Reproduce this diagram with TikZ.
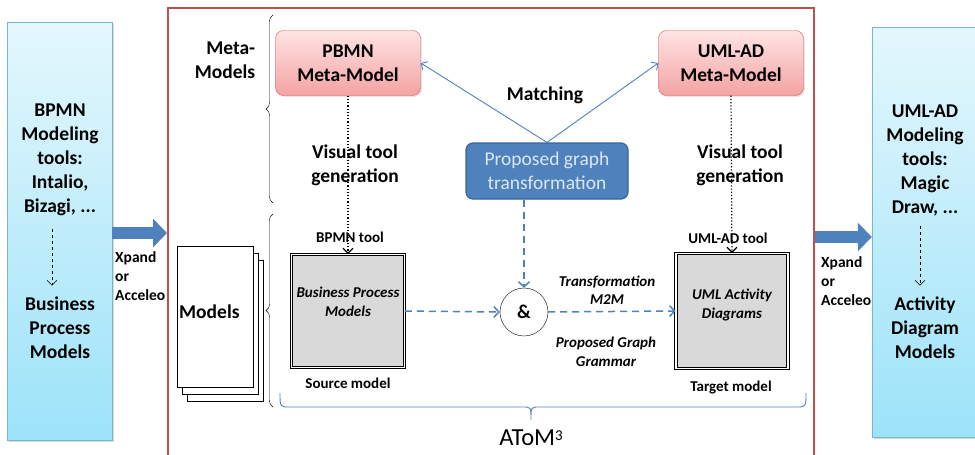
\documentclass[tikz,border=0pt]{standalone}
\usepackage{fontspec}
\setmainfont{Carlito}
\usetikzlibrary{positioning}
\usetikzlibrary{arrows.meta}
\usetikzlibrary{decorations.pathreplacing}
\usetikzlibrary{shadows}
\definecolor{toolTop}{HTML}{E4F7FD}
\definecolor{toolBot}{HTML}{9CE3F9}
\definecolor{toolEdge}{HTML}{78B6CC}
\definecolor{metaTop}{HTML}{FFE3E3}
\definecolor{metaBot}{HTML}{F4A3A3}
\definecolor{metaEdge}{HTML}{D0605E}
\definecolor{frameRed}{HTML}{C0504D}
\definecolor{blueMain}{HTML}{4F81BD}
\definecolor{blueDark}{HTML}{3A6599}
\definecolor{propText}{HTML}{DCE6F2}
\definecolor{grayFill}{HTML}{D9D9D9}
\newcommand{\bigtxt}{\fontsize{19.5}{24}\selectfont}
\newcommand{\smalltxt}{\fontsize{15}{18.5}\selectfont}
\tikzset{
  toolbox/.style = {draw=toolEdge, top color=toolTop, bottom color=toolBot, inner sep=0,
                    drop shadow={shadow xshift=2pt, shadow yshift=-2pt, opacity=0.3}},
  metabox/.style = {draw=metaEdge, rounded corners=8pt, top color=metaTop, bottom color=metaBot,
                    minimum width=145, minimum height=65, align=center,
                    drop shadow={shadow xshift=1.5pt, shadow yshift=-1.5pt, opacity=0.2}},
  propbox/.style = {draw=blueDark, line width=1.2, rounded corners=7pt, fill=blueMain,
                    minimum width=162, minimum height=56, align=center, text=propText,
                    font=\mdseries\bigtxt},
  modelbox/.style = {draw, double=white, double distance=1.6pt, fill=grayFill, line width=0.9},
  page/.style = {draw, fill=white, minimum width=76, minimum height=141, inner sep=0},
  flow/.style = {blueMain, line width=1.5, dash pattern=on 7pt off 5pt,
                 -{Straight Barb[length=5pt,width=11pt]}},
  tooldot/.style = {dotted, line width=1.2, -{Straight Barb[length=5pt,width=10pt]}},
  bigarrow/.style = {blueMain, line width=12, -{Triangle[length=14pt,width=28pt]}},
  lbl/.style = {font=\bfseries\smalltxt, inner sep=1},
  italbl/.style = {font=\bfseries\itshape\smalltxt, align=center, inner sep=1},
  xlbl/.style = {font=\bfseries\fontsize{15.5}{19}\selectfont, align=left, anchor=west, inner sep=0},
}
\begin{document}
\begin{tikzpicture}[x=1pt, y=-1pt, font=\bfseries\bigtxt]
  \useasboundingbox (0,0) rectangle (975,455);

  % tools outside AToM3
  \node[toolbox, minimum width=105, minimum height=418] (ltool) at (59.5,231) {};
  \node[toolbox, minimum width=122, minimum height=410] (rtool) at (933,232) {};
  \node[align=center] (lup) at (60,160) {BPMN\\Modeling\\tools:\\Intalio,\\Bizagi, ...};
  \node[align=center] (ldown) at (60,328) {Business\\Process\\Models};
  \node[align=center] (rup) at (925,160) {UML-AD\\Modeling\\tools:\\Magic\\Draw, ...};
  \node[align=center] (rdown) at (925,328) {Activity\\Diagram\\Models};
  \draw[dashed, shorten <=9pt, shorten >=8pt, -{Straight Barb[length=5pt,width=10pt]}]
    ([xshift=-8pt]lup.south) -- ([xshift=-8pt]ldown.north);
  \draw[dashed, shorten <=7pt, shorten >=8pt, -{Straight Barb[length=5pt,width=10pt]}]
    ([xshift=-5pt]rup.south) -- ([xshift=-5pt]rdown.north);

  % AToM3 frame
  \node[draw=frameRed, line width=1.5, minimum width=646, minimum height=470,
        anchor=north west, inner sep=0] (atomframe) at (167,7) {};
  \draw[bigarrow] (ltool.east |- 0,233) -- (atomframe.west |- 0,233);
  \draw[bigarrow] (atomframe.east |- 0,237) -- (rtool.west |- 0,237);
  \node[xlbl] (xl) at (115,276) {Xpand\\or\\Acceleo};
  \node[xlbl] (xr) at (821,281) {Xpand\\or\\Acceleo};

  % meta level
  \node[align=right] (metalbl) at (225,60) {Meta-\\Models};
  \draw[decorate, decoration={brace, amplitude=7pt}] (273,203) -- (273,15);
  \node[metabox] (pbmn) at (348,63) {PBMN\\Meta-Model};
  \node[metabox] (umlmeta) at (731,63) {UML-AD\\Meta-Model};
  \node[propbox] (graph) at (547,171) {Proposed graph\\transformation};
  \node (match) at (545,95) {Matching};
  \draw[blueMain, line width=0.9, -{Straight Barb[length=5pt,width=10pt]}] (graph.north) -- (pbmn.east);
  \draw[blueMain, line width=0.9, -{Straight Barb[length=5pt,width=10pt]}] (graph.north) -- (umlmeta.west);
  \node[align=center] (vis1) at (355,165) {Visual tool\\generation};
  \node[align=center] (vis2) at (740,165) {Visual tool\\generation};

  % model level
  \draw[decorate, decoration={brace, amplitude=7pt}] (273,407) -- (273,214);
  \foreach \dx/\dy [count=\i] in {10/14, 5/7, 0/0} {
    \node[page] (pg\i) at (215+\dx,316.5+\dy) {};
  }
  \node[anchor=west, inner sep=0] (modelslbl) at (179,312) {Models};
  \node[modelbox, minimum width=113, minimum height=113] (srcmod) at (348,311) {};
  \node[modelbox, minimum width=112, minimum height=115] (tgtmod) at (732,311) {};
  \node[italbl] (srctxt) at ([yshift=9pt]srcmod.center) {Business Process\\Models};
  \node[italbl] (tgttxt) at ([yshift=6pt]tgtmod.center) {UML Activity\\Diagrams};
  \node[lbl] (bpmntool) at (350,237) {BPMN tool};
  \node[lbl] (umltool) at (728,238) {UML-AD tool};
  \node[lbl] (srclbl) at (348,383) {Source model};
  \node[lbl] (tgtlbl) at (731,388) {Target model};
  \draw[tooldot] (pbmn.south) -- (srcmod.north);
  \draw[tooldot] (umlmeta.south) -- (tgtmod.north);
  \node[circle, draw, minimum size=48, inner sep=0] (andop) at (524,312) {\&};
  \draw[flow] (srcmod.east) -- (andop.west);
  \draw[flow] (andop.east) -- (tgtmod.west);
  \draw[flow] (graph.south -| andop.north) -- (andop.north);
  \node[italbl] (m2m) at (607,290) {Transformation\\M2M};
  \node[italbl] (grammar) at (606,352) {Proposed Graph\\Grammar};

  % AToM3 brace
  \draw[blueMain, line width=0.9] (280,393) .. controls (280,407) .. (290,407) -- (523,407)
    .. controls (531,407) .. (531,420) .. controls (531,407) .. (539,407) -- (796,407)
    .. controls (806,407) .. (806,393);
  \node[font=\mdseries\fontsize{24.5}{27}\selectfont] (atom) at (531,438)
    {AToM\raisebox{5.5pt}{\fontsize{15}{15}\selectfont 3}};
\end{tikzpicture}
\end{document}
